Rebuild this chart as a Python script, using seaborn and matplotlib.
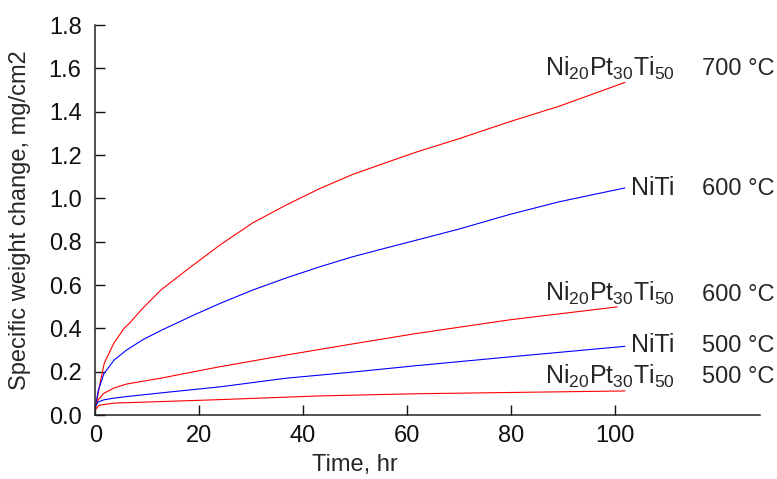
import numpy as np
import pandas as pd
import seaborn as sns
import matplotlib.pyplot as plt

# values (time in hr, weight change in mg/cm2)
t_ptni_700 = [0, 0.3, 0.9, 1.7, 3.5, 5.5, 6.6, 9, 12.6, 17.6, 24, 30.3, 36.8, 43.2, 49.5, 56, 62, 70, 79.7, 89.3, 102]
w_ptni_700 = [0.03, 0.07, 0.15, 0.24, 0.33, 0.40, 0.425, 0.49, 0.577, 0.67, 0.785, 0.887, 0.97, 1.045, 1.11, 1.165, 1.215, 1.275, 1.353, 1.425, 1.535]

t_niti_600 = [0, 0.5, 1.6, 3.6, 6, 9.3, 12.6, 19, 24, 30.3, 36.8, 43.2, 49.5, 56, 61.5, 70, 79.7, 89.3, 102]
w_niti_600 = [0.04, 0.11, 0.19, 0.254, 0.30, 0.35, 0.39, 0.462, 0.515, 0.577, 0.633, 0.684, 0.73, 0.771, 0.805, 0.858, 0.925, 0.984, 1.048]

t_ptni_600 = [0, 0.5, 1.6, 3.6, 6, 12.6, 19, 24, 36.8, 49.5, 61.5, 79.7, 100.5]
w_ptni_600 = [0.04, 0.07, 0.10, 0.125, 0.143, 0.17, 0.20, 0.223, 0.277, 0.328, 0.375, 0.439, 0.499]

t_niti_500 = [0, 0.5, 1.6, 3.6, 6, 12.6, 24, 36.8, 49.5, 61.5, 79.7, 102]
w_niti_500 = [0.04, 0.06, 0.07, 0.078, 0.085, 0.102, 0.13, 0.17, 0.198, 0.227, 0.268, 0.317]

t_ptni_500 = [0, 0.7, 3.6, 12.6, 24, 43, 61.5, 80, 102]
w_ptni_500 = [0.025, 0.045, 0.055, 0.062, 0.071, 0.088, 0.098, 0.104, 0.111]

alloy = r"Ni$_{20}$Pt$_{30}$Ti$_{50}$"
series = [
    (t_ptni_700, w_ptni_700, "red", alloy, "700 °C"),
    (t_niti_600, w_niti_600, "blue", "NiTi", "600 °C"),
    (t_ptni_600, w_ptni_600, "red", alloy, "600 °C"),
    (t_niti_500, w_niti_500, "blue", "NiTi", "500 °C"),
    (t_ptni_500, w_ptni_500, "red", alloy, "500 °C"),
]
label_y = [1.567, 1.016, 0.528, 0.292, 0.146]

sns.set_style("ticks")
plt.rcParams['font.family'] = ['Liberation Sans', 'DejaVu Sans']
plt.rcParams['mathtext.fontset'] = 'custom'
plt.rcParams['mathtext.rm'] = 'Liberation Sans'
plt.rcParams['mathtext.default'] = 'regular'

fig = plt.figure(figsize=(7.77, 4.79), dpi=100)
ax = fig.add_axes([0.1229, 0.1336, 0.978 - 0.1229, 0.9478 - 0.1336])

for (t, w, c, name, temp), ly in zip(series, label_y):
    d = pd.DataFrame({'t': t, 'w': w})
    sns.lineplot(data=d, x='t', y='w', color=c, linewidth=0.8, ax=ax)
    ax.text(111.6, ly, name, ha='right', va='baseline', fontsize=18)
    ax.text(116.8, ly, temp, ha='left', va='baseline', fontsize=17)

ax.set_xlim(0, 128)
ax.set_ylim(0, 1.8)
ax.set_xticks(np.arange(0, 101, 20))
ax.set_yticks(np.arange(0, 1.81, 0.2))
ax.set_yticklabels([f"{v:.1f}" for v in np.arange(0, 1.81, 0.2)])
ax.tick_params(direction='in', length=7, width=1, labelsize=17, colors='#111111')
ax.tick_params(axis='y', pad=10)
ax.tick_params(axis='x', pad=7)
for s in ['top', 'right']:
    ax.spines[s].set_visible(False)
for s in ['left', 'bottom']:
    ax.spines[s].set_linewidth(1.1)
    ax.spines[s].set_color('#222222')

ax.set_xlabel("Time, hr", fontsize=17)
ax.xaxis.set_label_coords(50 / 128, -0.1)
ax.set_ylabel("Specific weight change, mg/cm2", fontsize=17)
ax.yaxis.set_label_coords(-0.097, 0.5)

fig.savefig('out.png', dpi=100)
